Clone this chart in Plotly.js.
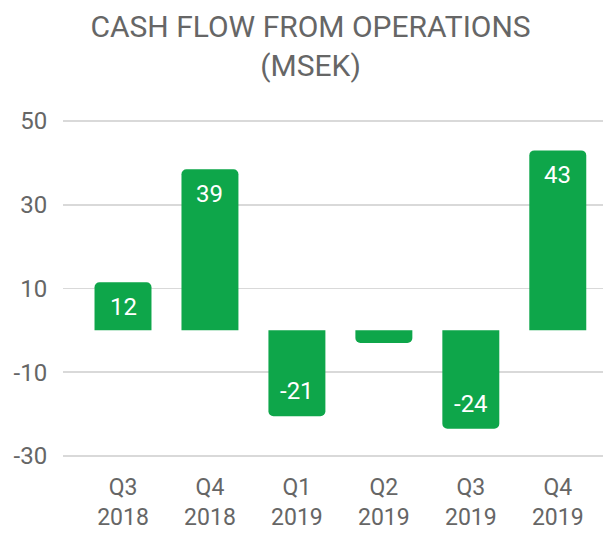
<!DOCTYPE html>
<html>
<head>
<meta charset="utf-8">
<script src="https://cdn.plot.ly/plotly-3.0.1.min.js"></script>
<style>html,body{margin:0;padding:0;background:#fff;}</style>
</head>
<body>
<div id="chart" style="width:603px;height:533px;"></div>
<script>
const categories = ["Q3<br>2018", "Q4<br>2018", "Q1<br>2019", "Q2<br>2019", "Q3<br>2019", "Q4<br>2019"];
const cashFlow = [11.5, 38.5, -20.5, -3, -23.5, 43];
const tickValues = [50, 30, 10, -10, -30];

// Value labels (rounded), hidden where the bar is too short to hold them
const labelAnnotations = cashFlow
  .map((v, i) => ({v, i}))
  .filter(d => Math.abs(d.v) >= 5)
  .map(d => ({
    x: categories[d.i],
    y: d.v,
    xref: "x", yref: "y",
    text: d.v.toFixed(0),
    showarrow: false,
    yanchor: "middle",
    yshift: d.v > 0 ? -25 : 25,
    font: {family: "Roboto", size: 24, color: "#ffffff"}
  }));

const trace = {
  type: "bar",
  x: categories,
  y: cashFlow,
  marker: {color: "#0ea64a", cornerradius: 5},
  hoverinfo: "none"
};

const layout = {
  width: 603,
  height: 533,
  margin: {l: 63, r: 0, t: 119, b: 75},
  paper_bgcolor: "#ffffff",
  plot_bgcolor: "#ffffff",
  font: {family: "Roboto", color: "#666666"},
  title: {
    text: "CASH FLOW FROM OPERATIONS<br>(MSEK)",
    font: {family: "Roboto", size: 30, color: "#666666"},
    x: 0.515, xanchor: "center",
    yref: "container",
    y: 0.93, yanchor: "top"
  },
  bargap: 0.345,
  showlegend: false,
  annotations: labelAnnotations,
  xaxis: {
    type: "category",
    range: [-0.69, 5.52],
    showgrid: false,
    showline: false,
    zeroline: false,
    ticks: "",
    tickfont: {family: "Roboto", size: 23, color: "#666666"},
    ticklabelstandoff: 13
  },
  yaxis: {
    range: [-30.5, 50.5],
    tickmode: "array",
    tickvals: tickValues,
    ticktext: tickValues.map(String),
    showgrid: true,
    gridcolor: "#d9d9d9",
    gridwidth: 1.5,
    zeroline: false,
    showline: false,
    ticks: "outside",
    ticklen: 10,
    tickcolor: "rgba(0,0,0,0)",
    tickfont: {family: "Roboto", size: 24, color: "#666666"}
  }
};

Plotly.newPlot("chart", [trace], layout, {displayModeBar: false, staticPlot: true});
</script>
</body>
</html>
